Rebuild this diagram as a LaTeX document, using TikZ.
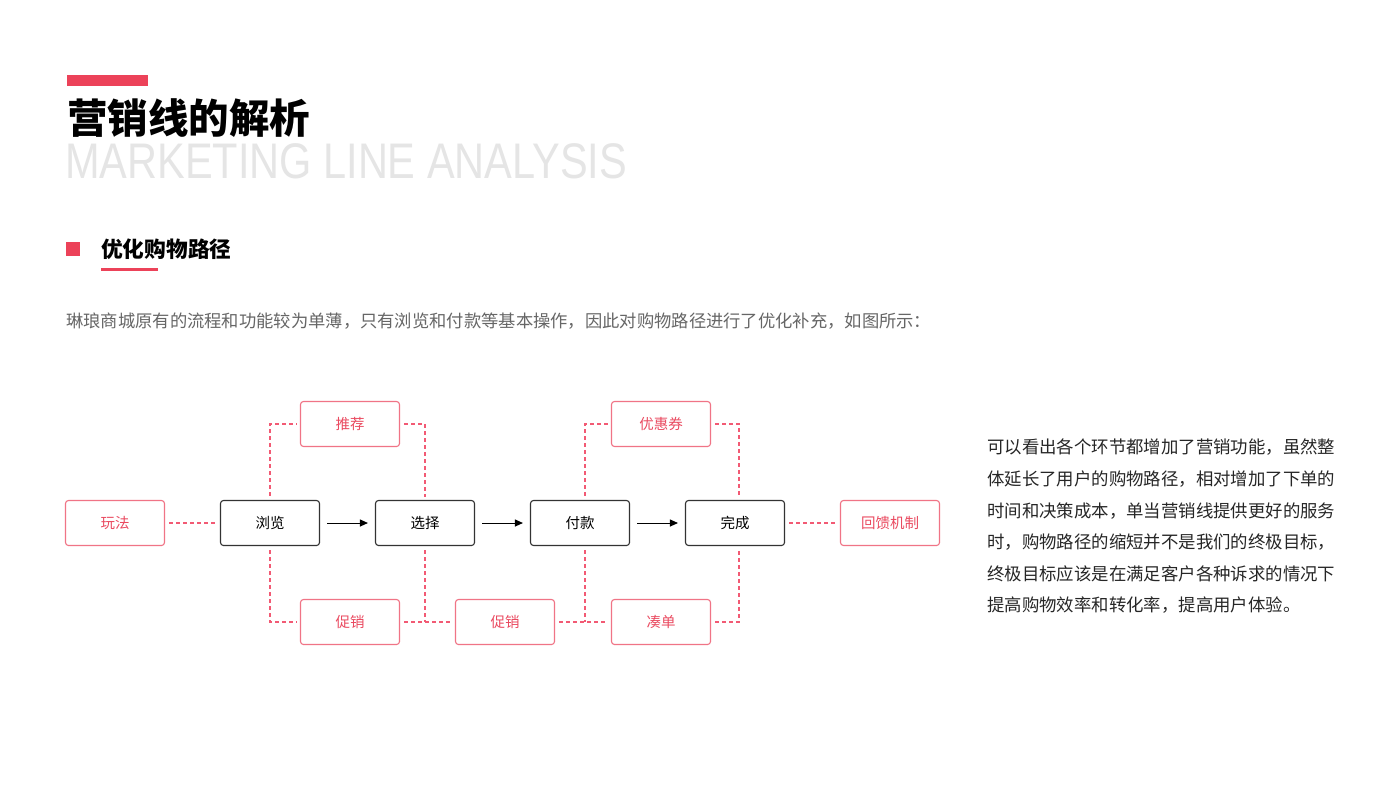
\documentclass[tikz,border=0pt]{standalone}
\usepackage{fontspec}
\setmainfont{Noto Sans CJK SC}
\newfontfamily\latinlight[FakeStretch=0.83]{Liberation Sans}
\usetikzlibrary{arrows.meta}

\definecolor{mkred}{HTML}{EC4259}
\definecolor{boxred}{HTML}{F07486}
\definecolor{txtred}{HTML}{EA4A60}
\definecolor{lnred}{HTML}{F25A74}

\tikzset{
  stepnode/.style={draw=black!80, line width=1.1pt, rounded corners=3pt,
    minimum width=99pt, minimum height=45pt, inner sep=0pt,
    font=\fontsize{14.5}{17}\selectfont},
  mknode/.style={draw=boxred, line width=1.1pt, rounded corners=3pt,
    minimum width=99pt, minimum height=45pt, inner sep=0pt, text=txtred,
    font=\fontsize{14.5}{17}\selectfont},
  flow/.style={line width=1pt, -{Triangle[length=8pt,width=7pt]},
    shorten <=7pt, shorten >=7pt},
  link/.style={draw=lnred, line width=1.1pt, dash pattern=on 4pt off 3pt,
    shorten <=4pt, shorten >=3pt}
}

\begin{document}
\begin{tikzpicture}[x=1pt, y=-1pt]
        \useasboundingbox[fill=white] (0,0) rectangle (1400,788);

        \fill[mkred] (67,75) rectangle (148,86);
        \node[anchor=west, inner sep=0pt, font=\fontsize{40.5}{44}\selectfont\bfseries] (title) at (67,118) {营销线的解析};
        \node[anchor=west, inner sep=0pt, text=black!10, font=\latinlight\fontsize{50}{54}\selectfont] (entitle) at (65,161) {MARKETING LINE ANALYSIS};

        \fill[mkred] (66,242) rectangle (80,256);
        \node[anchor=west, inner sep=0pt, font=\fontsize{21.7}{26}\selectfont\bfseries] (section) at (101,249) {优化购物路径};
        \fill[mkred] (101,267.5) rectangle (158,270.5);

        \node[anchor=west, inner sep=0pt, text=black!60, font=\fontsize{17.3}{20}\selectfont] (intro) at (66,321) {琳琅商城原有的流程和功能较为单薄，只有浏览和付款等基本操作，因此对购物路径进行了优化补充，如图所示：};

        \node[mknode] (wanfa) at (115,523) {玩法};
        \node[stepnode] (liulan) at (270,523) {浏览};
        \node[stepnode] (xuanze) at (425,523) {选择};
        \node[stepnode] (fukuan) at (580,523) {付款};
        \node[stepnode] (wancheng) at (735,523) {完成};
        \node[mknode] (huikui) at (890,523) {回馈机制};
        \node[mknode] (tuijian) at (350,424) {推荐};
        \node[mknode] (youhui) at (661,424) {优惠券};
        \node[mknode] (cuxiao) at (350,622) {促销};
        \node[mknode] (cuxiaob) at (505,622) {促销};
        \node[mknode] (coudan) at (661,622) {凑单};

        \coordinate (xzjoin) at (xuanze.south |- cuxiao.east);
        \coordinate (fkjoin) at ([xshift=5pt]fukuan.south |- coudan.west);

        \draw[flow] (liulan) -- (xuanze);
        \draw[flow] (xuanze) -- (fukuan);
        \draw[flow] (fukuan) -- (wancheng);

        \draw[link] (wanfa) -- (liulan);
        \draw[link] (wancheng) -- (huikui);

        \draw[link] (liulan.north) |- (tuijian.west);
        \draw[link] (tuijian.east) -| (xuanze.north);
        \draw[link] (liulan.south) |- (cuxiao.west);
        \draw[link, shorten >=0pt] (xuanze.south) -- (xzjoin);
        \draw[link] (cuxiao.east) -- (cuxiaob.west);

        \draw[link] ([xshift=5pt]fukuan.north) |- (youhui.west);
        \draw[link] (youhui.east) -| ([xshift=4pt]wancheng.north);
        \draw[link, shorten >=0pt] ([xshift=5pt]fukuan.south) -- (fkjoin);
        \draw[link] (cuxiaob.east) -- (coudan.west);
        \draw[link] (coudan.east) -| ([xshift=4pt]wancheng.south);

        \node[anchor=north west, inner sep=0pt, align=left, text=black!85, font=\fontsize{17.4}{31.6}\selectfont] (note) at (987,439) {可以看出各个环节都增加了营销功能，虽然整\\体延长了用户的购物路径，相对增加了下单的\\时间和决策成本，单当营销线提供更好的服务\\时，购物路径的缩短并不是我们的终极目标，\\终极目标应该是在满足客户各种诉求的情况下\\提高购物效率和转化率，提高用户体验。};
    \end{tikzpicture}
\end{document}
